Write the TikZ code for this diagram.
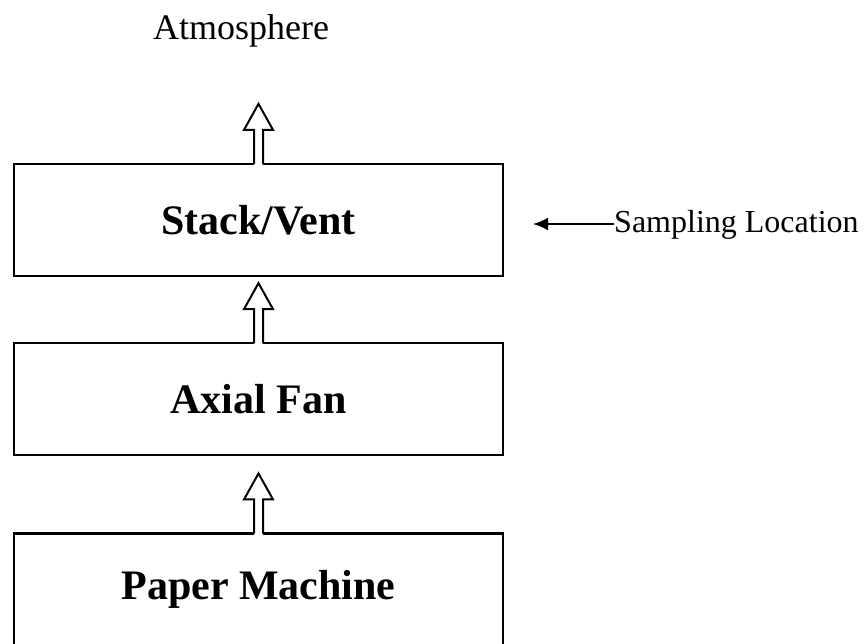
\documentclass[tikz,border=0pt]{standalone}
\usepackage{fontspec}
\setmainfont{Liberation Serif}
\usepackage{tikz}
\usetikzlibrary{arrows.meta,positioning}

% open block arrow pointing up from the top of a box
\newcommand{\flowup}[1]{%
	\fill[white] ([xshift=-4.5pt,yshift=-2.5pt] #1.north) -- ++(0,61.5pt) -- ++(9pt,0) -- ++(0,-61.5pt) -- cycle;
	\fill[white] ([yshift=59pt] #1.north) -- ++(-14.5pt,-26pt) -- ++(29pt,0) -- cycle;
	\draw[flow] ([xshift=-4.5pt,yshift=-1.15pt] #1.north) -- ++(0,34.15pt) -- ++(-10pt,0) -- ++(14.5pt,26pt)
		-- ++(14.5pt,-26pt) -- ++(-10pt,0) -- ++(0,-34.15pt);
}

\begin{document}
\begin{tikzpicture}
[
	x=1pt, y=1pt,
	unit/.style = {rectangle, draw, line width=2.3pt, minimum width=489pt, minimum height=112pt, font=\fontsize{42}{48}\selectfont\bfseries},
	flow/.style = {line width=2pt, line join=miter},
	pointer/.style = {-{Latex[length=15pt,width=13pt]}, line width=2pt}
]
\useasboundingbox (0,0) rectangle (866,-643);
\clip (0,0) rectangle (866,-643);

\node[unit] (stack) at (258.5,-220) {Stack/Vent};
\node[unit, below = 65pt of stack] (fan) {Axial Fan};
\node[unit, below = 76pt of fan] (paper) {Paper Machine};

\node[anchor=base, font=\fontsize{36}{42}\selectfont] (atmos) at (241,-39) {Atmosphere};
\node[anchor=base west, inner sep=0pt, font=\fontsize{32}{38}\selectfont] (sampling) at (614,-232) {Sampling Location};
\coordinate (samplept) at (533,-224);

\flowup{stack}
\flowup{fan}
\flowup{paper}

\draw[pointer] (sampling.west |- samplept) -- (samplept);

\end{tikzpicture}
\end{document}
